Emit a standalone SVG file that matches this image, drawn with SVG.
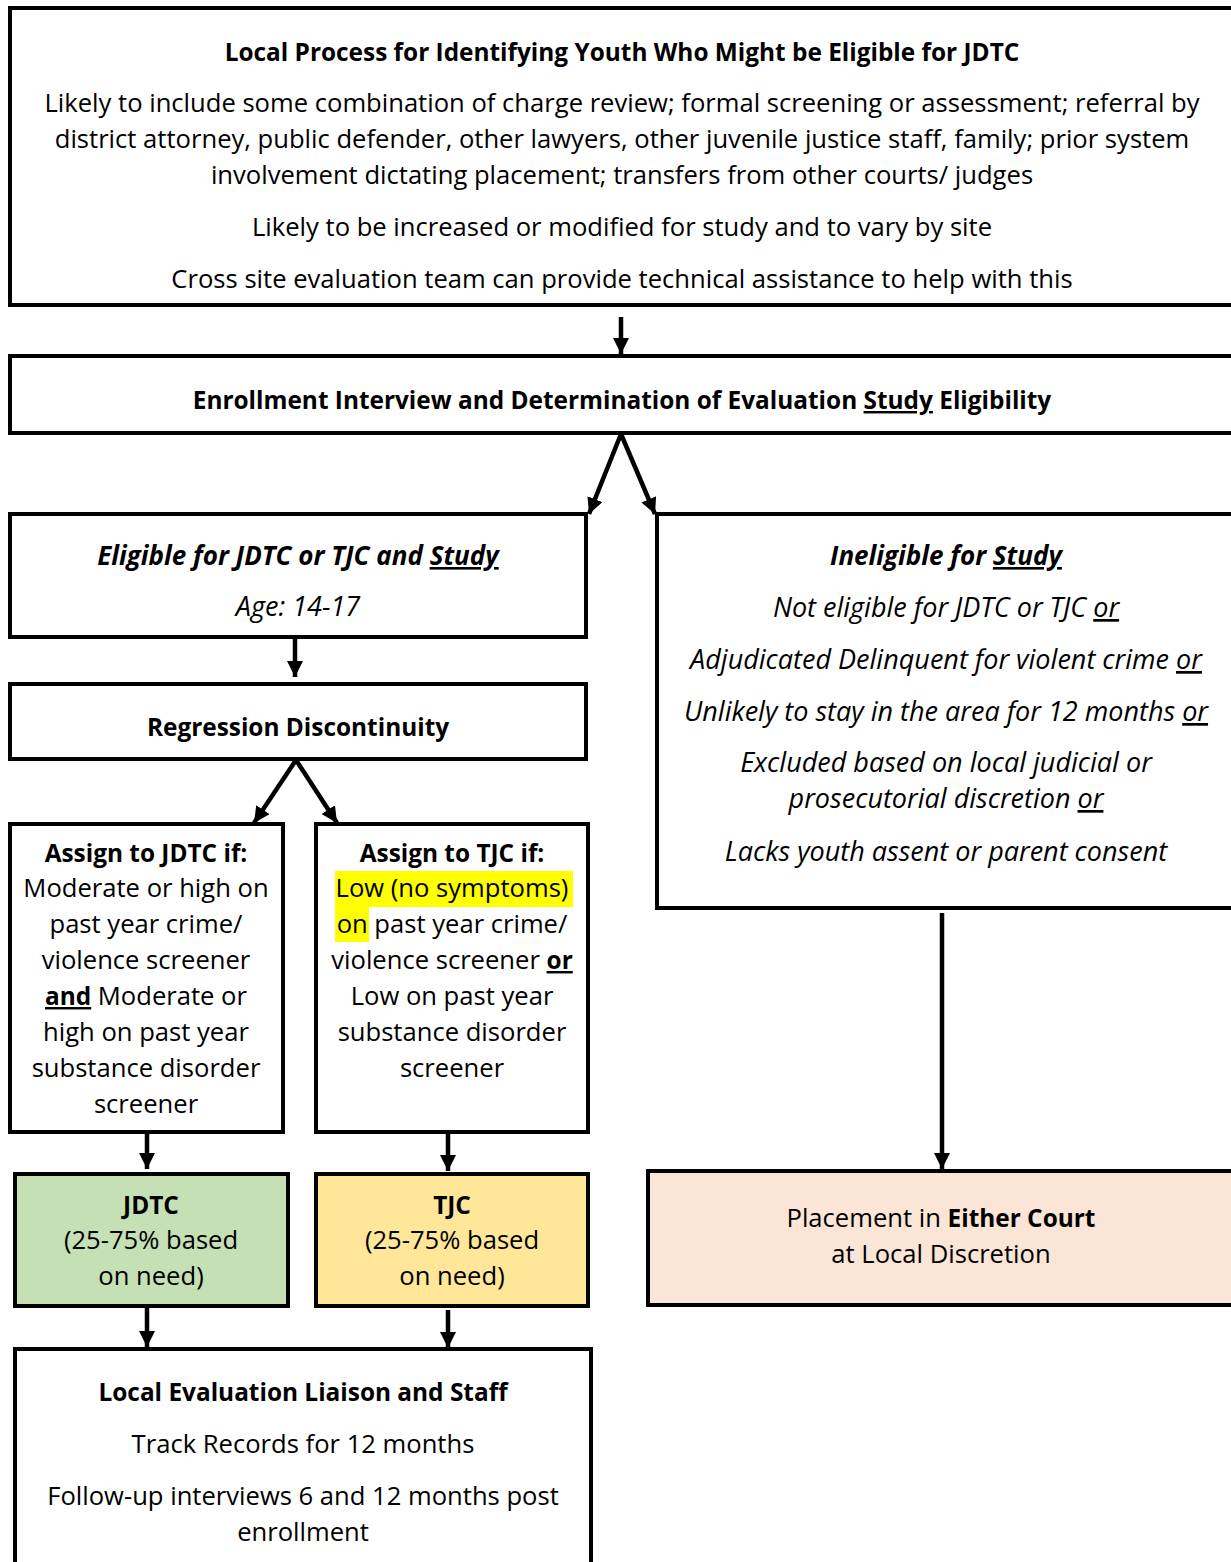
<svg xmlns="http://www.w3.org/2000/svg" width="1231" height="1562" viewBox="0 0 1231 1562">
<style>
text{font-family:"Open Sans","Noto Sans","Liberation Sans",sans-serif;font-size:25.6px;fill:#000;text-anchor:middle}
.b{font-weight:bold;font-size:24.4px}
.i{font-style:italic;font-size:27px}
.b.i{font-size:26px}
.u{text-decoration:underline}
.box{fill:#fff;stroke:#000;stroke-width:4}
.con{stroke:#000;stroke-width:4.5;fill:none}
</style>
<defs>
<marker id="ah" markerUnits="userSpaceOnUse" markerWidth="16" markerHeight="16" viewBox="0 0 16 16" refX="16" refY="8" orient="auto">
<path d="M0,0 L16,8 L0,16 Z" fill="#000"/>
</marker>
</defs>
<rect width="1231" height="1562" fill="#fff"/>
<g id="connectors">
<line class="con" x1="621" y1="317" x2="621" y2="354" marker-end="url(#ah)"/>
<line class="con" x1="621" y1="434" x2="589" y2="514" marker-end="url(#ah)"/>
<line class="con" x1="621" y1="434" x2="655" y2="514" marker-end="url(#ah)"/>
<line class="con" x1="295" y1="638" x2="295" y2="677" marker-end="url(#ah)"/>
<line class="con" x1="296" y1="760" x2="254" y2="823" marker-end="url(#ah)"/>
<line class="con" x1="296" y1="760" x2="337" y2="823" marker-end="url(#ah)"/>
<line class="con" x1="147" y1="1133" x2="147" y2="1169" marker-end="url(#ah)"/>
<line class="con" x1="448" y1="1133" x2="448" y2="1171" marker-end="url(#ah)"/>
<line class="con" x1="942" y1="913" x2="942" y2="1169" marker-end="url(#ah)"/>
<line class="con" x1="147" y1="1308" x2="147" y2="1347" marker-end="url(#ah)"/>
<line class="con" x1="448" y1="1310" x2="448" y2="1348" marker-end="url(#ah)"/>
</g>
<g id="local-process">
<rect class="box" x="10" y="8" width="1226" height="297"/>
<text class="b" x="622" y="61">Local Process for Identifying Youth Who Might be Eligible for JDTC</text>
<text x="622" y="112">Likely to include some combination of charge review; formal screening or assessment; referral by</text>
<text x="622" y="148">district attorney, public defender, other lawyers, other juvenile justice staff, family; prior system</text>
<text x="622" y="184">involvement dictating placement; transfers from other courts/ judges</text>
<text x="622" y="236">Likely to be increased or modified for study and to vary by site</text>
<text x="622" y="288">Cross site evaluation team can provide technical assistance to help with this</text>
</g>
<g id="enrollment">
<rect class="box" x="10" y="356" width="1226" height="77"/>
<text class="b" x="622" y="409">Enrollment Interview and Determination of Evaluation <tspan class="u">Study</tspan> Eligibility</text>
</g>
<g id="eligible">
<rect class="box" x="10" y="514" width="576" height="123"/>
<text class="b i" x="298" y="565">Eligible for JDTC or TJC and <tspan class="u">Study</tspan></text>
<text class="i" x="298" y="616">Age: 14-17</text>
</g>
<g id="ineligible">
<rect class="box" x="657" y="514" width="580" height="394"/>
<text class="b i" x="946" y="565">Ineligible for <tspan class="u">Study</tspan></text>
<text class="i" x="946" y="617">Not eligible for JDTC or TJC <tspan class="u">or</tspan></text>
<text class="i" x="946" y="669">Adjudicated Delinquent for violent crime <tspan class="u">or</tspan></text>
<text class="i" x="946" y="721">Unlikely to stay in the area for 12 months <tspan class="u">or</tspan></text>
<text class="i" x="946" y="772">Excluded based on local judicial or</text>
<text class="i" x="946" y="808">prosecutorial discretion <tspan class="u">or</tspan></text>
<text class="i" x="946" y="861">Lacks youth assent or parent consent</text>
</g>
<g id="regression">
<rect class="box" x="10" y="684" width="576" height="75"/>
<text class="b" x="298" y="736">Regression Discontinuity</text>
</g>
<g id="assign-jdtc">
<rect class="box" x="10" y="824" width="273" height="308"/>
<text class="b" x="146" y="862">Assign to JDTC if:</text>
<text x="146" y="897">Moderate or high on</text>
<text x="146" y="933">past year crime/</text>
<text x="146" y="969">violence screener</text>
<text x="146" y="1005"><tspan class="b u">and</tspan> Moderate or</text>
<text x="146" y="1041">high on past year</text>
<text x="146" y="1077">substance disorder</text>
<text x="146" y="1113">screener</text>
</g>
<g id="assign-tjc">
<rect class="box" x="316" y="824" width="272" height="308"/>
<rect x="335" y="871" width="238" height="36" fill="#ffff00"/>
<rect x="335" y="907" width="34" height="35" fill="#ffff00"/>
<text class="b" x="452" y="862">Assign to TJC if:</text>
<text x="452" y="897">Low (no symptoms)</text>
<text x="452" y="933">on past year crime/</text>
<text x="452" y="969">violence screener <tspan class="b u">or</tspan></text>
<text x="452" y="1005">Low on past year</text>
<text x="452" y="1041">substance disorder</text>
<text x="452" y="1077">screener</text>
</g>
<g id="jdtc">
<rect class="box" x="15" y="1174" width="273" height="132" style="fill:#c5e0b4"/>
<text class="b" x="151" y="1214">JDTC</text>
<text x="151" y="1249">(25-75% based</text>
<text x="151" y="1285">on need)</text>
</g>
<g id="tjc">
<rect class="box" x="316" y="1174" width="272" height="132" style="fill:#ffe699"/>
<text class="b" x="452" y="1214">TJC</text>
<text x="452" y="1249">(25-75% based</text>
<text x="452" y="1285">on need)</text>
</g>
<g id="placement">
<rect class="box" x="648" y="1171" width="590" height="134" style="fill:#fbe5d6"/>
<text x="941" y="1227">Placement in <tspan class="b">Either Court</tspan></text>
<text x="941" y="1263">at Local Discretion</text>
</g>
<g id="liaison">
<rect class="box" x="15" y="1349" width="576" height="230"/>
<text class="b" x="303" y="1401">Local Evaluation Liaison and Staff</text>
<text x="303" y="1453">Track Records for 12 months</text>
<text x="303" y="1505">Follow-up interviews 6 and 12 months post</text>
<text x="303" y="1541">enrollment</text>
</g>
</svg>
